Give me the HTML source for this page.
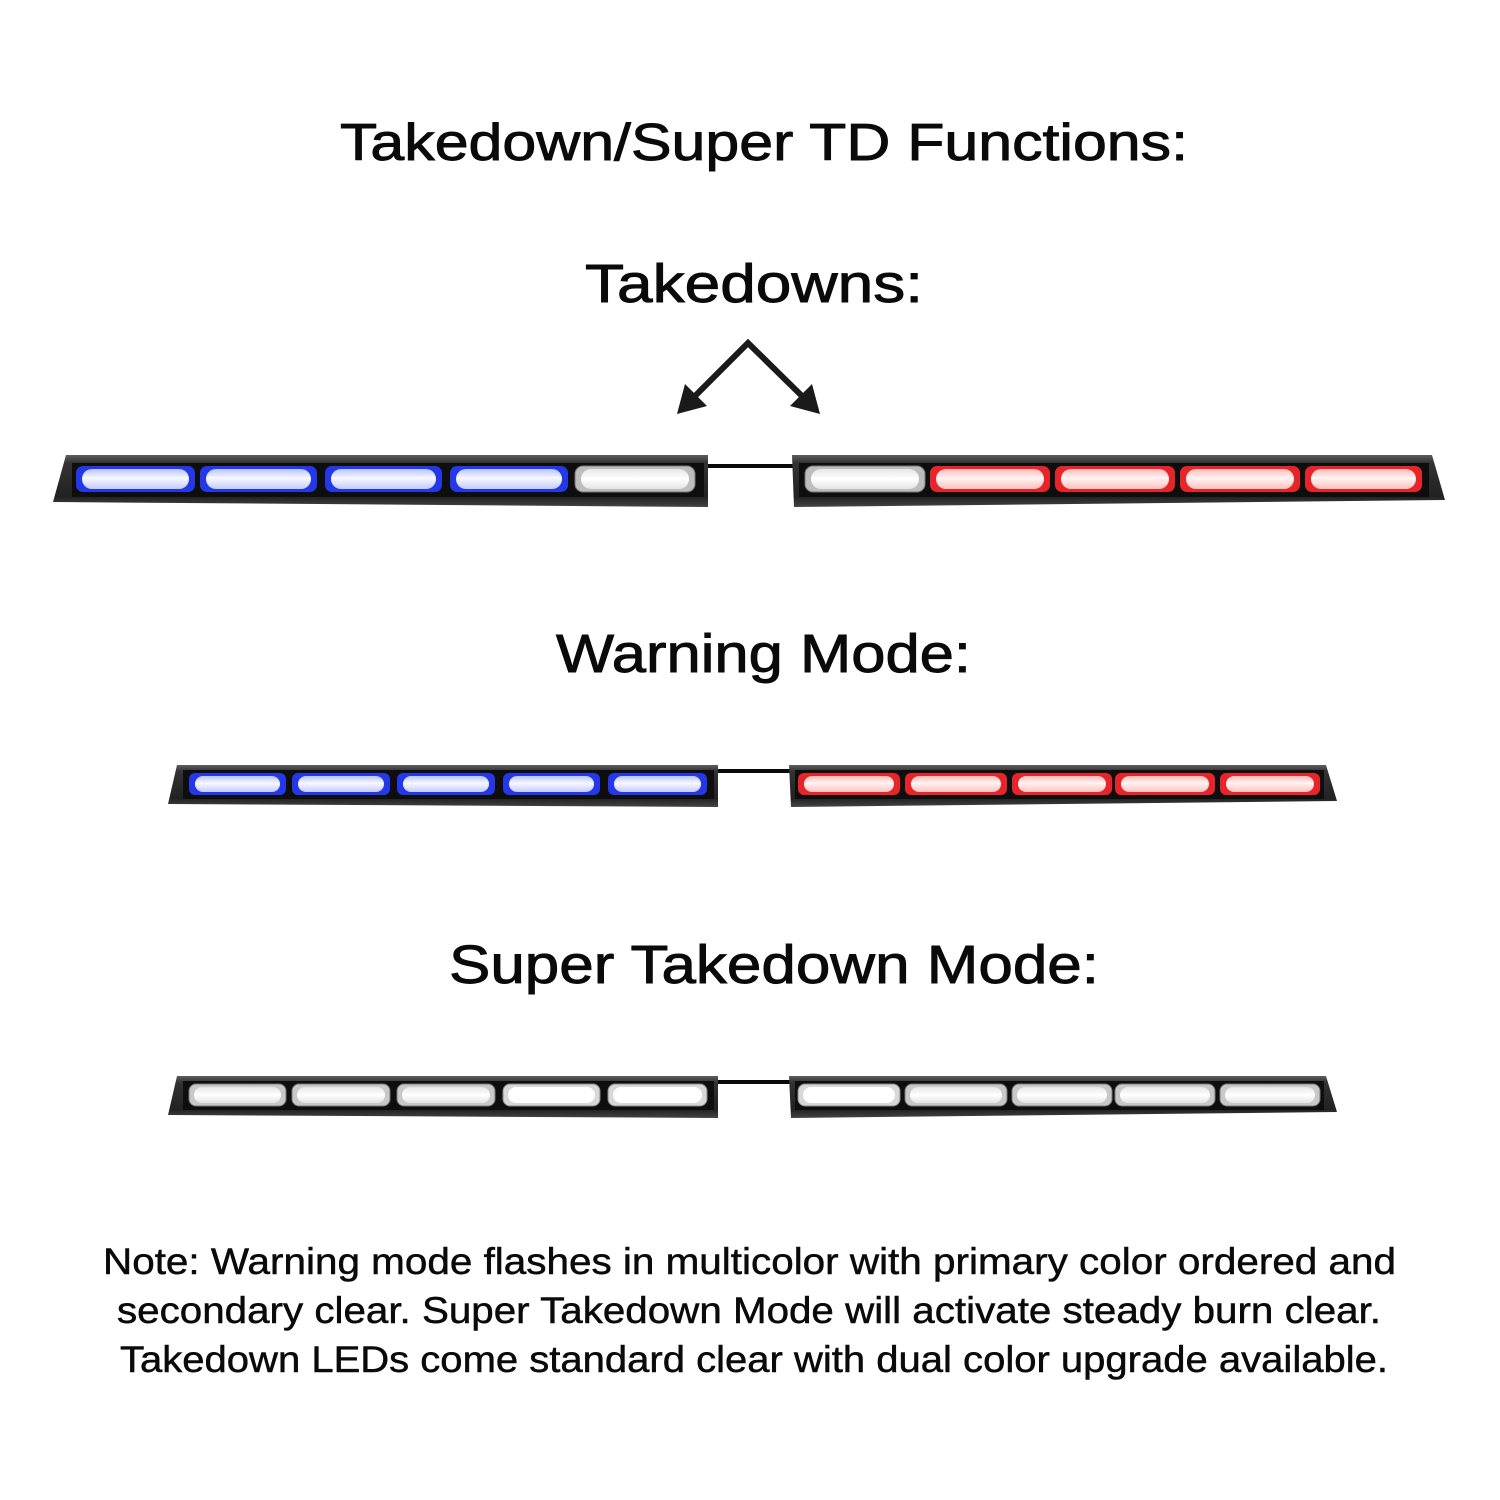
<!DOCTYPE html>
<html>
<head>
<meta charset="utf-8">
<style>
  html, body { margin: 0; padding: 0; background: #ffffff; }
  svg { display: block; }
  text { font-family: "Liberation Sans", "DejaVu Sans", sans-serif; fill: #0a0a0a; }
</style>
</head>
<body>
<svg width="1500" height="1500" viewBox="0 0 1500 1500" xmlns="http://www.w3.org/2000/svg">
  <defs>
    <linearGradient id="body" x1="0" y1="0" x2="0" y2="1">
      <stop offset="0" stop-color="#5e5e5e"/>
      <stop offset="0.15" stop-color="#333333"/>
      <stop offset="0.8" stop-color="#222222"/>
      <stop offset="1" stop-color="#444444"/>
    </linearGradient>
    <linearGradient id="blueIn" x1="0" y1="0" x2="0" y2="1">
      <stop offset="0" stop-color="#b8c2ff"/>
      <stop offset="0.45" stop-color="#f7f8ff"/>
      <stop offset="1" stop-color="#c4ccff"/>
    </linearGradient>
    <linearGradient id="redIn" x1="0" y1="0" x2="0" y2="1">
      <stop offset="0" stop-color="#ffb8b8"/>
      <stop offset="0.45" stop-color="#fff4f2"/>
      <stop offset="1" stop-color="#ffc0c0"/>
    </linearGradient>
    <linearGradient id="clearIn" x1="0" y1="0" x2="0" y2="1">
      <stop offset="0" stop-color="#e6e6e6"/>
      <stop offset="0.5" stop-color="#ffffff"/>
      <stop offset="1" stop-color="#e4e4e4"/>
    </linearGradient>
  </defs>

  <!-- Titles -->
  <text x="340" y="160" font-size="52" textLength="848" lengthAdjust="spacingAndGlyphs" stroke="#0a0a0a" stroke-width="0.9">Takedown/Super TD Functions:</text>
  <text x="585" y="302" font-size="54" textLength="338" lengthAdjust="spacingAndGlyphs" stroke="#0a0a0a" stroke-width="0.9">Takedowns:</text>
  <text x="556" y="672" font-size="54" textLength="415" lengthAdjust="spacingAndGlyphs" stroke="#0a0a0a" stroke-width="0.9">Warning Mode:</text>
  <text x="449" y="983" font-size="54" textLength="650" lengthAdjust="spacingAndGlyphs" stroke="#0a0a0a" stroke-width="0.9">Super Takedown Mode:</text>

  <!-- Arrows -->
  <g stroke="#1a1a1a" stroke-width="6" fill="none" stroke-linecap="round" stroke-linejoin="miter">
    <polyline points="694,397 748,343 803,397"/>
  </g>
  <polygon points="677,414 685,384 707,406" fill="#1a1a1a"/>
  <polygon points="820,414 812,384 790,406" fill="#1a1a1a"/>

  <!-- ============ BAR 1 (Takedowns) ============ -->
  <line x1="705" y1="466" x2="796" y2="466" stroke="#0a0a0a" stroke-width="4"/>
  <polygon points="66,455 708,455 708,507 53,502" fill="url(#body)"/>
  <rect x="72" y="463" width="632" height="34" fill="#0e0e0e"/>
  <polygon points="792,455 1432,455 1445,500 794,507" fill="url(#body)"/>
  <rect x="799" y="463" width="630" height="34" fill="#0e0e0e"/>

  <g>
    <rect x="76" y="466" width="119" height="26" rx="7" fill="#2438e8"/>
    <rect x="82" y="469" width="107" height="20" rx="10" fill="url(#blueIn)"/>
    <rect x="200" y="466" width="117" height="26" rx="7" fill="#2438e8"/>
    <rect x="206" y="469" width="105" height="20" rx="10" fill="url(#blueIn)"/>
    <rect x="325" y="466" width="117" height="26" rx="7" fill="#2438e8"/>
    <rect x="331" y="469" width="105" height="20" rx="10" fill="url(#blueIn)"/>
    <rect x="450" y="466" width="118" height="26" rx="7" fill="#2438e8"/>
    <rect x="456" y="469" width="106" height="20" rx="10" fill="url(#blueIn)"/>
    <rect x="575" y="466" width="120" height="26" rx="8" fill="#bdbdbd" stroke="#777" stroke-width="1"/>
    <rect x="581" y="469" width="108" height="20" rx="10" fill="url(#clearIn)"/>
    <rect x="805" y="466" width="120" height="26" rx="8" fill="#bdbdbd" stroke="#777" stroke-width="1"/>
    <rect x="811" y="469" width="108" height="20" rx="10" fill="url(#clearIn)"/>
    <rect x="930" y="466" width="120" height="26" rx="7" fill="#e5252a"/>
    <rect x="936" y="469" width="108" height="20" rx="10" fill="url(#redIn)"/>
    <rect x="1055" y="466" width="120" height="26" rx="7" fill="#e5252a"/>
    <rect x="1061" y="469" width="108" height="20" rx="10" fill="url(#redIn)"/>
    <rect x="1180" y="466" width="120" height="26" rx="7" fill="#e5252a"/>
    <rect x="1186" y="469" width="108" height="20" rx="10" fill="url(#redIn)"/>
    <rect x="1305" y="466" width="117" height="26" rx="7" fill="#e5252a"/>
    <rect x="1311" y="469" width="105" height="20" rx="10" fill="url(#redIn)"/>
  </g>

  <!-- ============ BAR 2 (Warning) ============ -->
  <line x1="715" y1="771" x2="793" y2="771" stroke="#0a0a0a" stroke-width="4"/>
  <polygon points="177,765 718,765 718,807 168,804" fill="url(#body)"/>
  <rect x="183" y="770" width="531" height="29" fill="#0e0e0e"/>
  <polygon points="789,765 1326,765 1337,801 791,807" fill="url(#body)"/>
  <rect x="795" y="770" width="529" height="29" fill="#0e0e0e"/>
  <g>
    <rect x="189" y="773" width="97" height="22" rx="6" fill="#2438e8"/>
    <rect x="195" y="776" width="85" height="16" rx="8" fill="url(#blueIn)"/>
    <rect x="292" y="773" width="98" height="22" rx="6" fill="#2438e8"/>
    <rect x="298" y="776" width="86" height="16" rx="8" fill="url(#blueIn)"/>
    <rect x="397" y="773" width="98" height="22" rx="6" fill="#2438e8"/>
    <rect x="403" y="776" width="86" height="16" rx="8" fill="url(#blueIn)"/>
    <rect x="503" y="773" width="97" height="22" rx="6" fill="#2438e8"/>
    <rect x="509" y="776" width="85" height="16" rx="8" fill="url(#blueIn)"/>
    <rect x="608" y="773" width="99" height="22" rx="6" fill="#2438e8"/>
    <rect x="614" y="776" width="87" height="16" rx="8" fill="url(#blueIn)"/>

    <rect x="798" y="773" width="102" height="22" rx="6" fill="#e5252a"/>
    <rect x="804" y="776" width="90" height="16" rx="8" fill="url(#redIn)"/>
    <rect x="905" y="773" width="102" height="22" rx="6" fill="#e5252a"/>
    <rect x="911" y="776" width="90" height="16" rx="8" fill="url(#redIn)"/>
    <rect x="1012" y="773" width="100" height="22" rx="6" fill="#e5252a"/>
    <rect x="1018" y="776" width="88" height="16" rx="8" fill="url(#redIn)"/>
    <rect x="1115" y="773" width="100" height="22" rx="6" fill="#e5252a"/>
    <rect x="1121" y="776" width="88" height="16" rx="8" fill="url(#redIn)"/>
    <rect x="1220" y="773" width="100" height="22" rx="6" fill="#e5252a"/>
    <rect x="1226" y="776" width="88" height="16" rx="8" fill="url(#redIn)"/>
  </g>

  <!-- ============ BAR 3 (Super Takedown) ============ -->
  <line x1="715" y1="1082" x2="793" y2="1082" stroke="#0a0a0a" stroke-width="4"/>
  <polygon points="177,1076 718,1076 718,1118 168,1115" fill="url(#body)"/>
  <rect x="183" y="1081" width="531" height="29" fill="#0e0e0e"/>
  <polygon points="789,1076 1326,1076 1337,1112 791,1118" fill="url(#body)"/>
  <rect x="795" y="1081" width="529" height="29" fill="#0e0e0e"/>
  <g>
    <rect x="189" y="1084" width="97" height="22" rx="7" fill="#c8c8c8" stroke="#777" stroke-width="1"/>
    <rect x="194" y="1087" width="87" height="16" rx="8" fill="url(#clearIn)"/>
    <rect x="292" y="1084" width="98" height="22" rx="7" fill="#c8c8c8" stroke="#777" stroke-width="1"/>
    <rect x="297" y="1087" width="88" height="16" rx="8" fill="url(#clearIn)"/>
    <rect x="397" y="1084" width="98" height="22" rx="7" fill="#c8c8c8" stroke="#777" stroke-width="1"/>
    <rect x="402" y="1087" width="88" height="16" rx="8" fill="url(#clearIn)"/>
    <rect x="503" y="1084" width="97" height="22" rx="7" fill="#d8d8d8" stroke="#888" stroke-width="1"/>
    <rect x="508" y="1087" width="87" height="16" rx="8" fill="#ffffff"/>
    <rect x="608" y="1084" width="99" height="22" rx="7" fill="#d8d8d8" stroke="#888" stroke-width="1"/>
    <rect x="613" y="1087" width="89" height="16" rx="8" fill="#ffffff"/>

    <rect x="798" y="1084" width="102" height="22" rx="7" fill="#d8d8d8" stroke="#888" stroke-width="1"/>
    <rect x="803" y="1087" width="92" height="16" rx="8" fill="#ffffff"/>
    <rect x="905" y="1084" width="102" height="22" rx="7" fill="#c8c8c8" stroke="#777" stroke-width="1"/>
    <rect x="910" y="1087" width="92" height="16" rx="8" fill="url(#clearIn)"/>
    <rect x="1012" y="1084" width="100" height="22" rx="7" fill="#c8c8c8" stroke="#777" stroke-width="1"/>
    <rect x="1017" y="1087" width="90" height="16" rx="8" fill="url(#clearIn)"/>
    <rect x="1115" y="1084" width="100" height="22" rx="7" fill="#c8c8c8" stroke="#777" stroke-width="1"/>
    <rect x="1120" y="1087" width="90" height="16" rx="8" fill="url(#clearIn)"/>
    <rect x="1220" y="1084" width="100" height="22" rx="7" fill="#c8c8c8" stroke="#777" stroke-width="1"/>
    <rect x="1225" y="1087" width="90" height="16" rx="8" fill="url(#clearIn)"/>
  </g>

  <!-- Note -->
  <text x="103" y="1274" font-size="37" textLength="1293" lengthAdjust="spacingAndGlyphs" stroke="#0a0a0a" stroke-width="0.5">Note: Warning mode flashes in multicolor with primary color ordered and</text>
  <text x="117" y="1323" font-size="37" textLength="1264" lengthAdjust="spacingAndGlyphs" stroke="#0a0a0a" stroke-width="0.5">secondary clear. Super Takedown Mode will activate steady burn clear.</text>
  <text x="120" y="1372" font-size="37" textLength="1268" lengthAdjust="spacingAndGlyphs" stroke="#0a0a0a" stroke-width="0.5">Takedown LEDs come standard clear with dual color upgrade available.</text>
</svg>
</body>
</html>
